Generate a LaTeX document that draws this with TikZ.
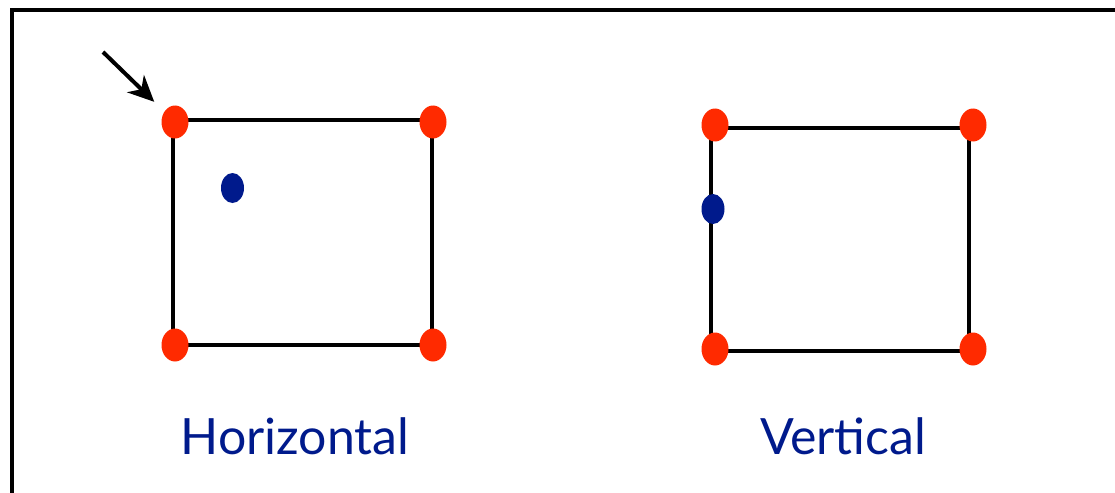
\documentclass[tikz,border=0pt]{standalone}
\usepackage{fontspec}
\setmainfont{Lato}
\usetikzlibrary{arrows.meta,shapes.geometric}
\definecolor{dotred}{HTML}{FF2A00}
\definecolor{dotblue}{HTML}{001A8C}
\definecolor{txtblue}{HTML}{001A8C}
\tikzset{
  edge/.style={draw=black, line width=3.2pt},
  reddot/.style={ellipse, fill=dotred, minimum width=27pt, minimum height=33pt, inner sep=0pt},
  bluedot/.style={ellipse, fill=dotblue, minimum width=23pt, minimum height=30pt, inner sep=0pt},
  label/.style={text=txtblue, font=\fontsize{50}{60}\selectfont, inner sep=0pt, anchor=base}
}
\begin{document}
\begin{tikzpicture}[x=1pt,y=-1pt]
\useasboundingbox (0,0) rectangle (1115,492);
\begin{scope}
\clip (0,0) rectangle (1115,492);
\draw[line width=3.5pt] (12,10) rectangle (1130,510);
\end{scope}
% left square
\coordinate (a1) at (173,120);
\coordinate (a2) at (432,120);
\coordinate (a3) at (432,345);
\coordinate (a4) at (173,345);
\draw[edge] (a1) -- (a2) -- (a3) -- (a4) -- cycle;
\node[reddot] (h1) at (175,122) {};
\node[reddot] (h2) at (433,122) {};
\node[reddot] (h3) at (433,345) {};
\node[reddot] (h4) at (175,345) {};
\node[bluedot] (hb) at (232.5,188) {};
\coordinate (tail) at (103,52);
\draw[line width=4pt, shorten >=14pt, -{Stealth[length=26pt,width=24pt,inset=8pt]}] (tail) -- (h1);
% right square
\coordinate (b1) at (711,128);
\coordinate (b2) at (969,128);
\coordinate (b3) at (969,351);
\coordinate (b4) at (711,351);
\draw[edge] (b1) -- (b2) -- (b3) -- (b4) -- cycle;
\node[reddot] (v1) at (715,125) {};
\node[reddot] (v2) at (973,125) {};
\node[reddot] (v3) at (973,349) {};
\node[reddot] (v4) at (715,349) {};
\node[bluedot] (vb) at (713,209) {};
% labels
\node[label] (hl) at (295,454) {Horizontal};
\node[label] (vl) at (843,454) {Vertical};
\end{tikzpicture}
\end{document}
